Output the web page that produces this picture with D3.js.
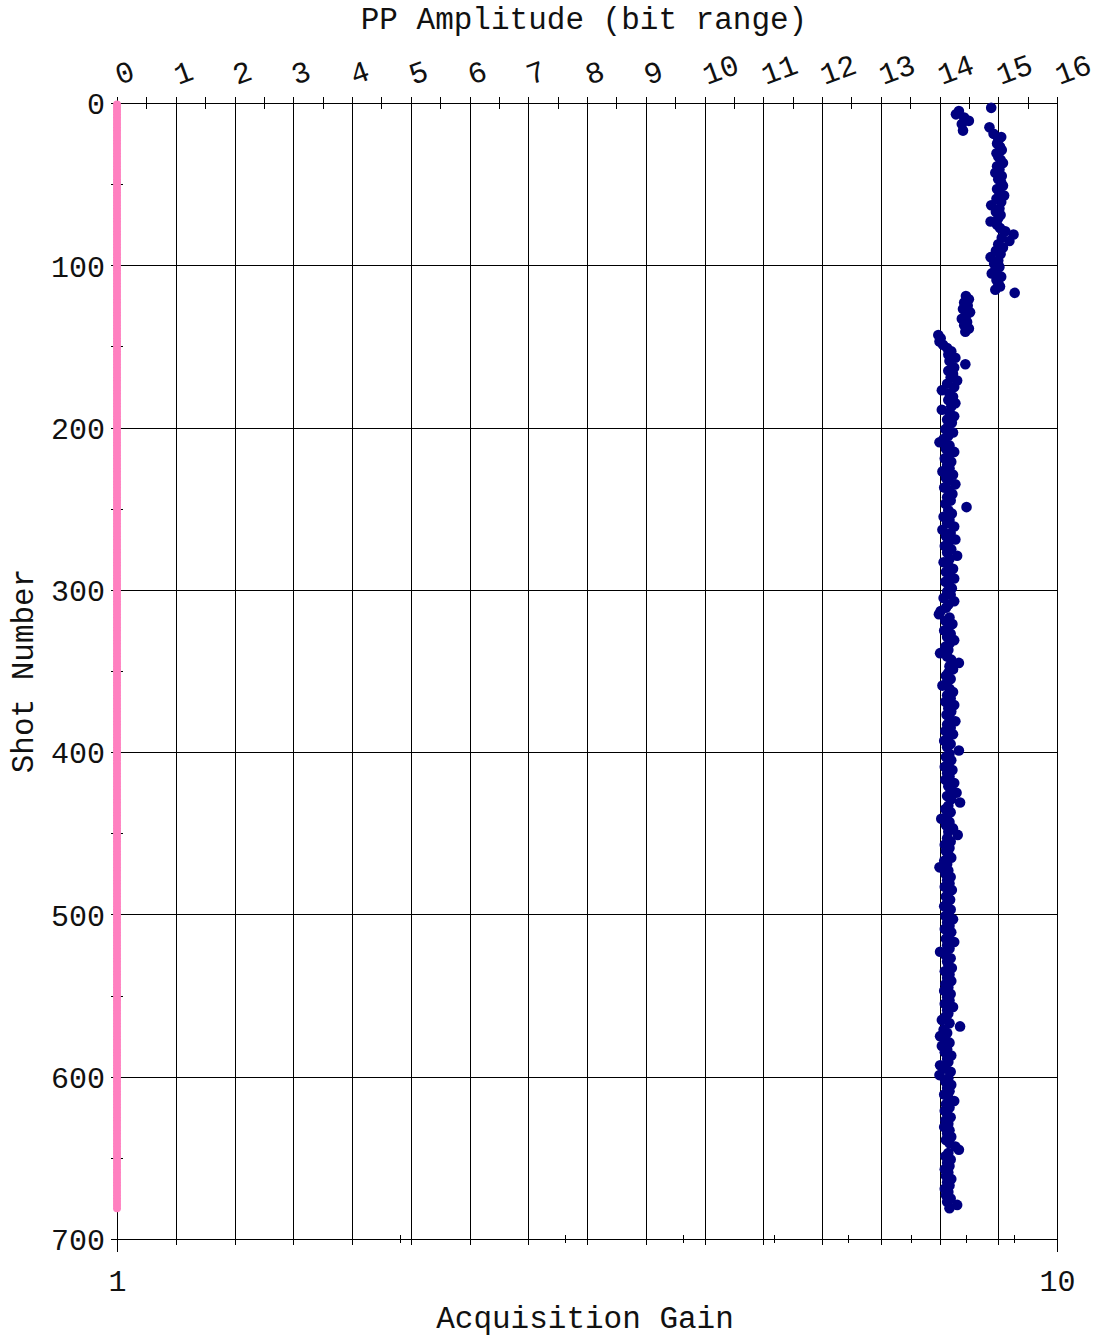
<!DOCTYPE html>
<html>
<head>
<meta charset="utf-8">
<script src="https://cdn.jsdelivr.net/npm/d3@7"></script>
<style>
  html, body { margin: 0; padding: 0; background: #fff; }
  svg { display: block; }
  text { font-family: "Liberation Mono", "Courier New", monospace; fill: #111; }
</style>
</head>
<body>
<svg id="chart" width="1105" height="1338"></svg>
<script>
// Tick values for the three axes
const ppTicks = [0, 1, 2, 3, 4, 5, 6, 7, 8, 9, 10, 11, 12, 13, 14, 15, 16];
const ppMinorTicks = [0.5, 1.5, 2.5, 3.5, 4.5, 5.5, 6.5, 7.5, 8.5, 9.5, 10.5, 11.5, 12.5, 13.5, 14.5, 15.5];
const shotTicks = [0, 100, 200, 300, 400, 500, 600, 700];
const shotMinorTicks = [50, 150, 250, 350, 450, 550, 650];
const gainTicks = [1, 10];
const gainMinorTicks = [2, 3, 4, 5, 6, 7, 8, 9];

// Every second shot, 1..681
const shotNumbers = d3.range(1, 682, 2);

// PP amplitude (bits) per shot, ten shots per row (rows of 20 shot numbers)
const ppAmplitude = [
  null, 14.88, 14.33, 14.28, 14.42, 14.5, 14.38, 14.85, 14.4, 14.92,
  15.05, 15.0, 14.98, 15.03, 15.06, 14.97, 15.0, 15.04, 15.08, 14.98,
  15.02, 14.95, 15.06, 15.0, 15.05, 15.08, 14.98, 15.02, 15.1, 14.97,
  15.05, 14.88, 15.02, 14.96, 15.04, 15.0, 14.87, 14.98, 15.03, 15.12,
  15.26, 15.06, 15.19, 15.0, 15.08, 14.96, 15.04, 14.87, 15.0, 14.93,
  15.02, 14.95, 14.89, 15.05, 14.97, 15.0, 15.03, 14.95, 15.28, 14.45,
  14.5, 14.42, 14.48, 14.4, 14.52, 14.45, 14.38, 14.47, 14.42, 14.5,
  14.44, 13.98, 14.02, 14.0, 14.06, 14.13, 14.2, 14.15, 14.27, 14.17,
  14.44, 14.25, 14.15, 14.23, 14.19, 14.3, 14.13, 14.25, 14.04, 14.17,
  14.23, 14.15, 14.27, 14.2, 14.04, 14.17, 14.25, 14.13, 14.21, 14.15,
  14.1, 14.23, 14.15, 14.07, 14.0, 14.17, 14.11, 14.25, 14.15, 14.09,
  14.2, 14.13, 14.17, 14.05, 14.23, 14.11, 14.15, 14.27, 14.08, 14.17,
  14.22, 14.13, 14.19, 14.1, 14.46, 14.15, 14.21, 14.07, 14.17, 14.13,
  14.25, 14.05, 14.19, 14.11, 14.27, 14.15, 14.09, 14.2, 14.13, 14.3,
  14.17, 14.07, 14.15, 14.23, 14.11, 14.18, 14.25, 14.1, 14.16, 14.21,
  14.13, 14.19, 14.07, 14.25, 14.15, 14.11, 14.02, 13.99, 14.17, 14.1,
  14.22, 14.15, 14.08, 14.19, 14.13, 14.25, 14.17, 14.1, 14.15, 14.01,
  14.13, 14.2, 14.33, 14.17, 14.23, 14.15, 14.11, 14.19, 14.13, 14.05,
  14.17, 14.23, 14.13, 14.19, 14.1, 14.25, 14.15, 14.2, 14.12, 14.17,
  14.27, 14.13, 14.19, 14.1, 14.23, 14.15, 14.08, 14.19, 14.13, 14.33,
  14.17, 14.11, 14.2, 14.15, 14.09, 14.22, 14.13, 14.17, 14.1, 14.25,
  14.15, 14.19, 14.29, 14.13, 14.2, 14.35, 14.15, 14.1, 14.19, 14.13,
  14.03, 14.17, 14.11, 14.23, 14.15, 14.31, 14.13, 14.19, 14.09, 14.17,
  14.11, 14.15, 14.2, 14.08, 14.13, 14.0, 14.15, 14.1, 14.19, 14.13,
  14.17, 14.09, 14.21, 14.15, 14.11, 14.18, 14.13, 14.08, 14.19, 14.15,
  14.1, 14.23, 14.13, 14.17, 14.09, 14.2, 14.15, 14.11, 14.25, 14.13,
  14.17, 14.01, 14.1, 14.19, 14.13, 14.15, 14.21, 14.09, 14.17, 14.13,
  14.2, 14.1, 14.15, 14.08, 14.19, 14.13, 14.17, 14.09, 14.23, 14.13,
  14.15, 14.1, 14.04, 14.17, 14.35, 14.07, 14.13, 14.01, 14.1, 14.17,
  14.04, 14.13, 14.09, 14.2, 14.13, 14.15, 14.01, 14.1, 14.19, 14.0,
  14.15, 14.1, 14.2, 14.13, 14.17, 14.08, 14.15, 14.25, 14.11, 14.17,
  14.09, 14.13, 14.19, 14.1, 14.15, 14.08, 14.17, 14.13, 14.2, 14.11,
  14.17, 14.27, 14.33, 14.15, 14.1, 14.19, 14.13, 14.17, 14.09, 14.15,
  14.11, 14.2, 14.13, 14.17, 14.09, 14.15, 14.11, 14.19, 14.13, 14.3,
  14.17
];

// Acquisition gain per shot (same shots as above)
const acquisitionGain = [
  1, 1, 1, 1, 1, 1, 1, 1, 1, 1, 1, 1, 1, 1, 1, 1, 1, 1, 1, 1,
  1, 1, 1, 1, 1, 1, 1, 1, 1, 1, 1, 1, 1, 1, 1, 1, 1, 1, 1, 1,
  1, 1, 1, 1, 1, 1, 1, 1, 1, 1, 1, 1, 1, 1, 1, 1, 1, 1, 1, 1,
  1, 1, 1, 1, 1, 1, 1, 1, 1, 1, 1, 1, 1, 1, 1, 1, 1, 1, 1, 1,
  1, 1, 1, 1, 1, 1, 1, 1, 1, 1, 1, 1, 1, 1, 1, 1, 1, 1, 1, 1,
  1, 1, 1, 1, 1, 1, 1, 1, 1, 1, 1, 1, 1, 1, 1, 1, 1, 1, 1, 1,
  1, 1, 1, 1, 1, 1, 1, 1, 1, 1, 1, 1, 1, 1, 1, 1, 1, 1, 1, 1,
  1, 1, 1, 1, 1, 1, 1, 1, 1, 1, 1, 1, 1, 1, 1, 1, 1, 1, 1, 1,
  1, 1, 1, 1, 1, 1, 1, 1, 1, 1, 1, 1, 1, 1, 1, 1, 1, 1, 1, 1,
  1, 1, 1, 1, 1, 1, 1, 1, 1, 1, 1, 1, 1, 1, 1, 1, 1, 1, 1, 1,
  1, 1, 1, 1, 1, 1, 1, 1, 1, 1, 1, 1, 1, 1, 1, 1, 1, 1, 1, 1,
  1, 1, 1, 1, 1, 1, 1, 1, 1, 1, 1, 1, 1, 1, 1, 1, 1, 1, 1, 1,
  1, 1, 1, 1, 1, 1, 1, 1, 1, 1, 1, 1, 1, 1, 1, 1, 1, 1, 1, 1,
  1, 1, 1, 1, 1, 1, 1, 1, 1, 1, 1, 1, 1, 1, 1, 1, 1, 1, 1, 1,
  1, 1, 1, 1, 1, 1, 1, 1, 1, 1, 1, 1, 1, 1, 1, 1, 1, 1, 1, 1,
  1, 1, 1, 1, 1, 1, 1, 1, 1, 1, 1, 1, 1, 1, 1, 1, 1, 1, 1, 1,
  1, 1, 1, 1, 1, 1, 1, 1, 1, 1, 1, 1, 1, 1, 1, 1, 1, 1, 1, 1,
  1
];

const svg = d3.select("#chart");
svg.append("rect").attr("width", 1105).attr("height", 1338).attr("fill", "#fff");

const plot = { left: 117, right: 1057, top: 103, bottom: 1239 };
const tickFont = 30;
const titleFont = 31;

const xPP = d3.scaleLinear().domain([0, 16]).range([plot.left, plot.right]);
const xGain = d3.scaleLog().domain([1, 10]).range([plot.left, plot.right]);
const yShot = d3.scaleLinear().domain([0, 700]).range([plot.top, plot.bottom]);

function styleAxis(g) {
  g.selectAll("line").attr("stroke", "#000").attr("stroke-width", 1).attr("shape-rendering", "crispEdges");
  g.selectAll("path.domain").attr("stroke", "#000").attr("stroke-width", 1).attr("shape-rendering", "crispEdges");
  g.selectAll("text").attr("font-size", tickFont).attr("fill", "#111")
    .attr("font-family", "'Liberation Mono', 'Courier New', monospace");
}

// Vertical grid lines at each PP amplitude tick
svg.append("g")
  .attr("transform", `translate(0,${plot.top - 6})`)
  .call(d3.axisBottom(xPP).tickValues(ppTicks.slice(1, -1))
    .tickSize(plot.bottom - plot.top + 12).tickFormat(""))
  .call(g => g.select(".domain").remove())
  .call(styleAxis);

// Horizontal grid lines at shot-number ticks
svg.append("g")
  .attr("transform", `translate(${plot.right},0)`)
  .call(d3.axisLeft(yShot).tickValues(shotTicks.slice(1, -1))
    .tickSize(plot.right - plot.left + 6).tickFormat(""))
  .call(g => g.select(".domain").remove())
  .call(styleAxis);

// Right border
svg.append("line")
  .attr("x1", plot.right).attr("x2", plot.right)
  .attr("y1", plot.top - 6).attr("y2", plot.bottom + 13)
  .attr("stroke", "#000").attr("shape-rendering", "crispEdges");

// Top axis: PP amplitude
const topAxis = svg.append("g")
  .attr("transform", `translate(0,${plot.top})`)
  .call(d3.axisTop(xPP).tickValues(ppTicks).tickSize(6).tickSizeOuter(0).tickFormat(d3.format("d")))
  .call(styleAxis);
topAxis.selectAll(".tick text")
  .attr("text-anchor", "start")
  .attr("x", null).attr("y", null).attr("dy", null)
  .attr("transform", "translate(2,-18) rotate(-20)");

svg.append("g")
  .attr("transform", `translate(0,${plot.top})`)
  .call(d3.axisTop(xPP).tickValues(ppMinorTicks).tickSize(6).tickSizeOuter(0).tickFormat(""))
  .call(g => g.select(".domain").remove())
  .call(styleAxis)
  .call(g => g.selectAll(".tick line").attr("y2", -6).attr("y1", 6));

svg.append("text")
  .attr("x", (plot.left + plot.right) / 2 - 3)
  .attr("y", 29)
  .attr("text-anchor", "middle")
  .attr("font-size", titleFont)
  .text("PP Amplitude (bit range)");

// Bottom axis: acquisition gain (log)
const bottomAxis = svg.append("g")
  .attr("transform", `translate(0,${plot.bottom})`)
  .call(d3.axisBottom(xGain).tickValues(gainTicks).tickSize(13).tickSizeOuter(0).tickFormat(d3.format("d")))
  .call(styleAxis);
bottomAxis.selectAll(".tick text").attr("y", 52).attr("dy", null);

svg.append("g")
  .attr("transform", `translate(0,${plot.bottom})`)
  .call(d3.axisBottom(xGain).tickValues(gainMinorTicks).tickSize(4).tickSizeOuter(0).tickFormat(""))
  .call(g => g.select(".domain").remove())
  .call(styleAxis)
  .call(g => g.selectAll(".tick line").attr("y1", -4));

svg.append("text")
  .attr("x", (plot.left + plot.right) / 2 - 2)
  .attr("y", 1328)
  .attr("text-anchor", "middle")
  .attr("font-size", titleFont)
  .text("Acquisition Gain");

// Left axis: shot number
const leftAxis = svg.append("g")
  .attr("transform", `translate(${plot.left},0)`)
  .call(d3.axisLeft(yShot).tickValues(shotTicks).tickSize(6).tickSizeOuter(0).tickPadding(6).tickFormat(d3.format("d")))
  .call(styleAxis);
leftAxis.selectAll(".tick text").attr("dy", "0.36em");

svg.append("g")
  .attr("transform", `translate(${plot.left},0)`)
  .call(d3.axisLeft(yShot).tickValues(shotMinorTicks).tickSize(6).tickSizeOuter(0).tickFormat(""))
  .call(g => g.select(".domain").remove())
  .call(styleAxis)
  .call(g => g.selectAll(".tick line").attr("x1", 6));

svg.append("text")
  .attr("transform", `translate(33,${(plot.top + plot.bottom) / 2}) rotate(-90)`)
  .attr("text-anchor", "middle")
  .attr("font-size", titleFont)
  .text("Shot Number");

// Points
const records = shotNumbers.map((shot, i) => ({ shot, pp: ppAmplitude[i], gain: acquisitionGain[i] }));

svg.append("g").selectAll("circle")
  .data(records.filter(d => d.pp != null))
  .join("circle")
  .attr("cx", d => xPP(d.pp))
  .attr("cy", d => yShot(d.shot))
  .attr("r", 5.3)
  .attr("fill", "#000080");

svg.append("g").selectAll("circle")
  .data(records)
  .join("circle")
  .attr("cx", d => xGain(d.gain))
  .attr("cy", d => yShot(d.shot))
  .attr("r", 4)
  .attr("fill", "#ff80c0");
</script>
</body>
</html>
